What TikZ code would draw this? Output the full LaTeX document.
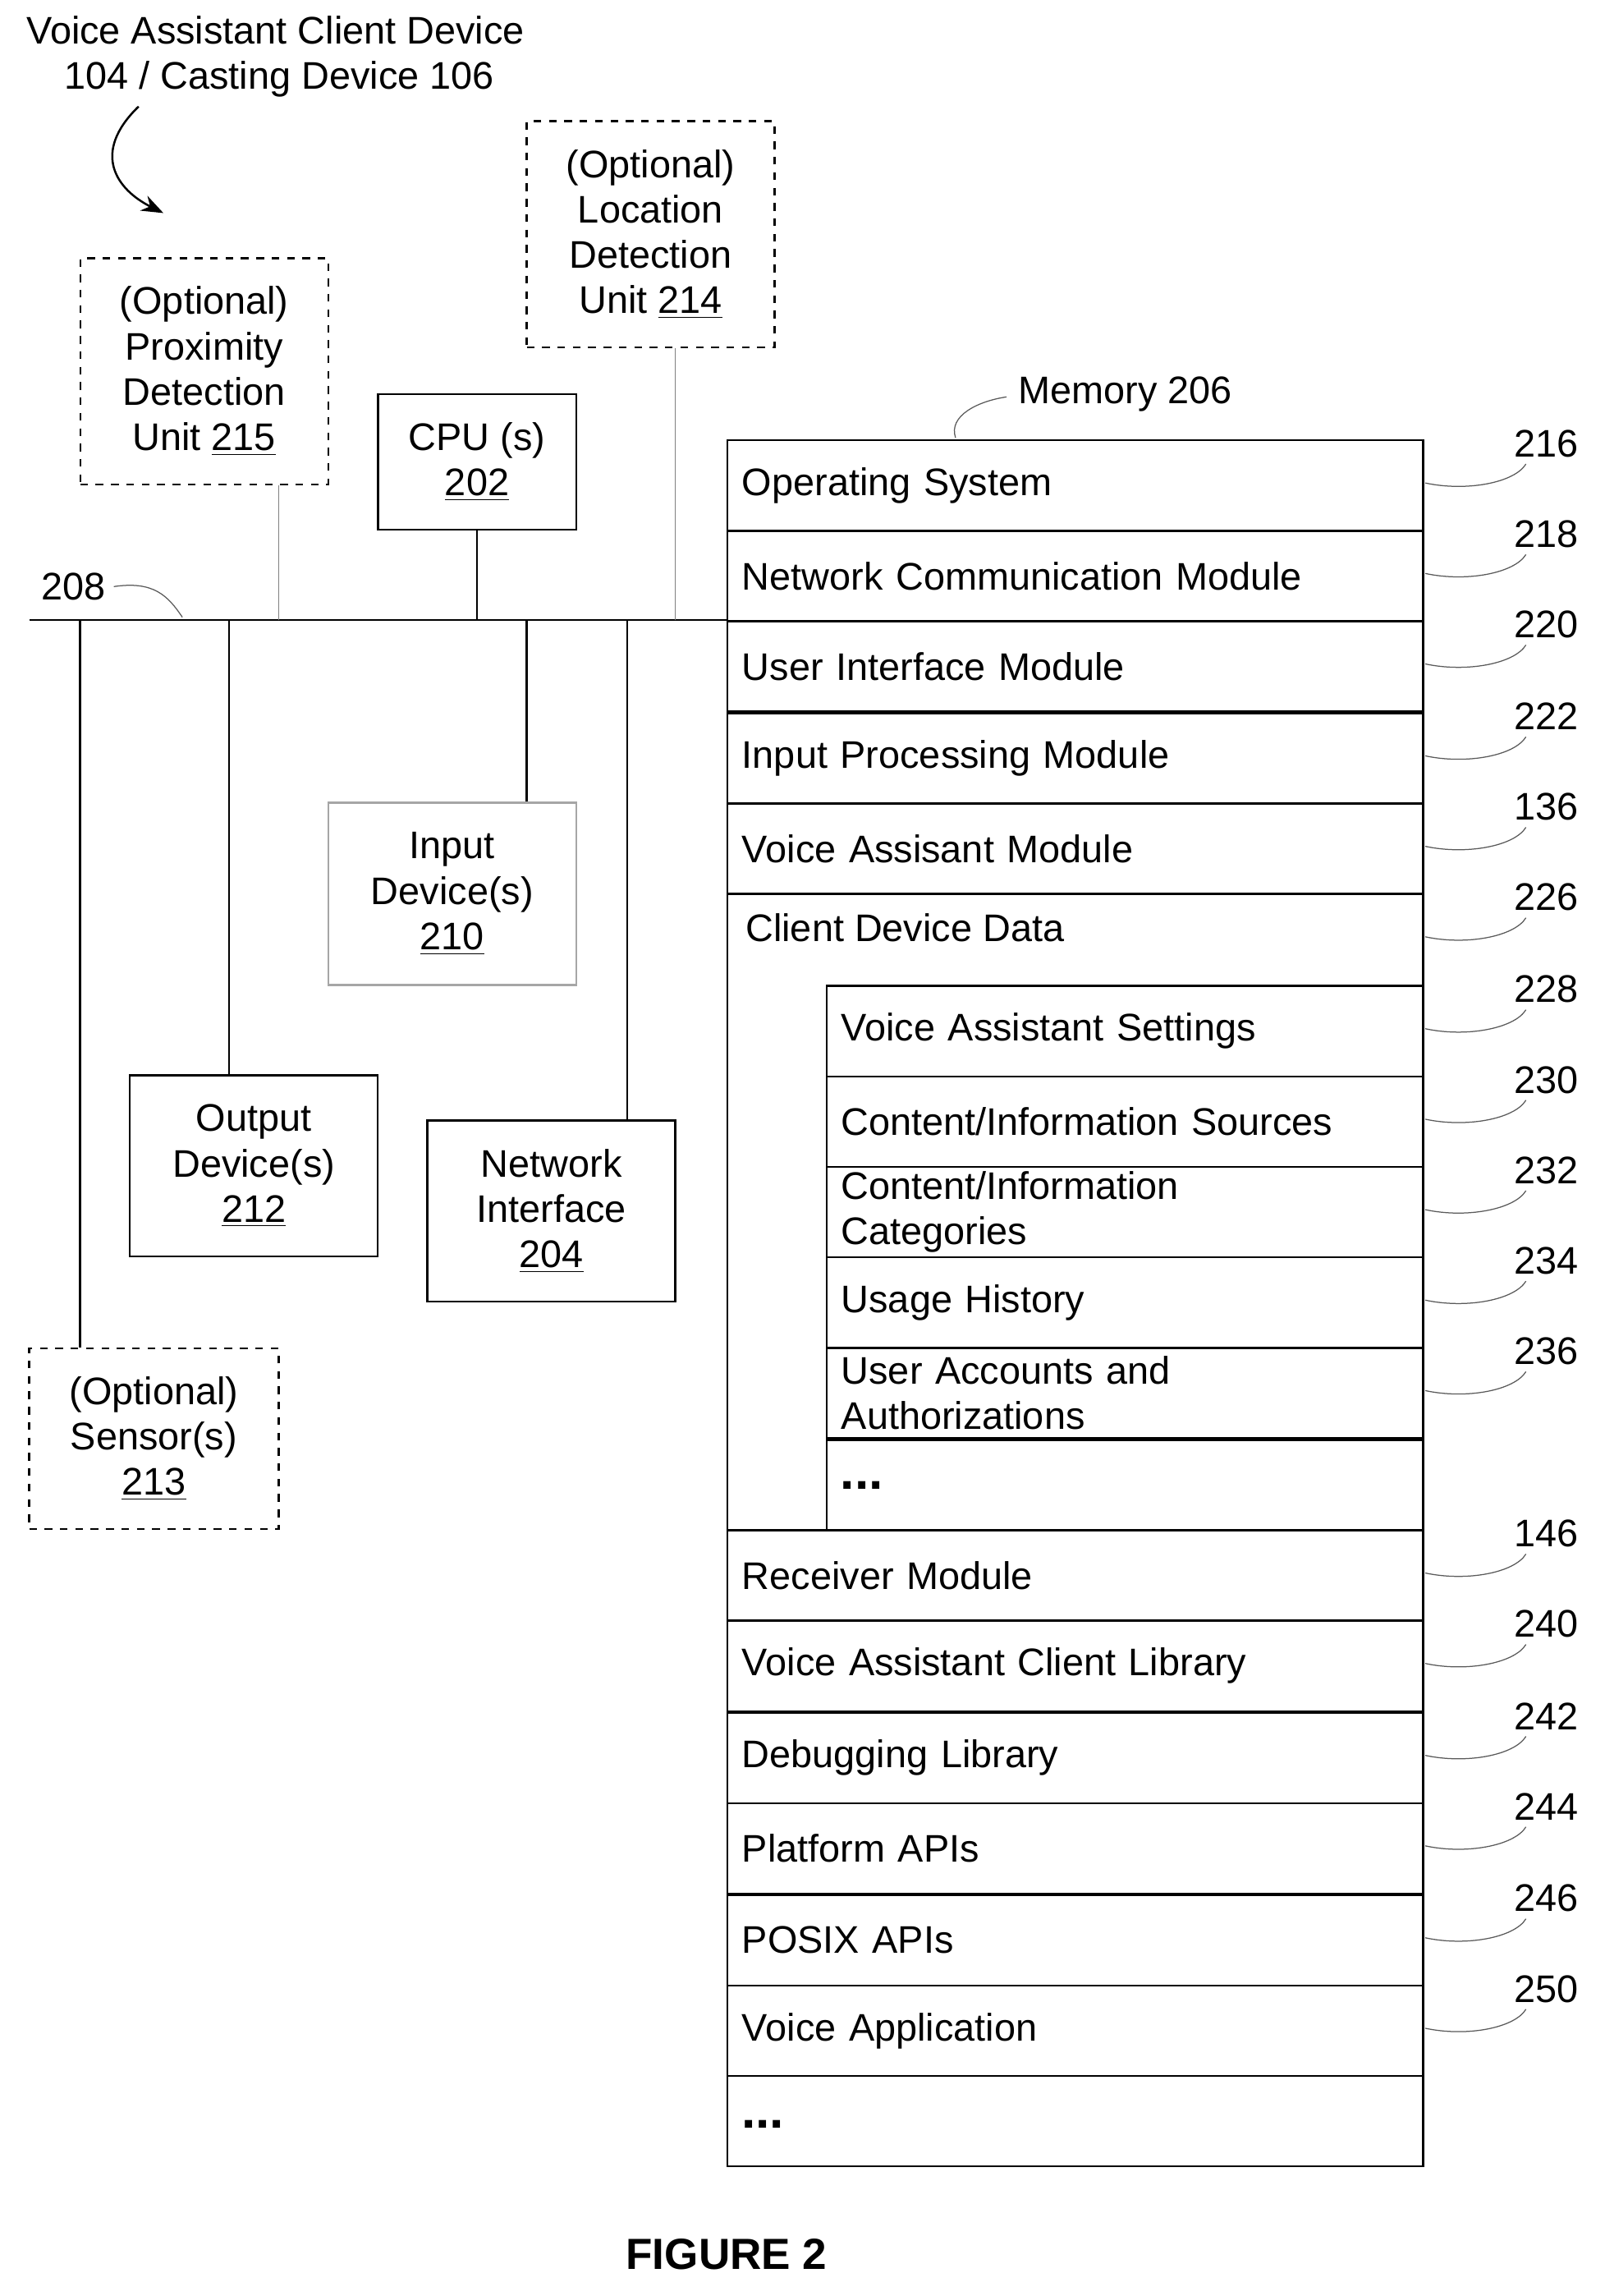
\documentclass[tikz,border=0pt]{standalone}
\usepackage{fontspec}
\setmainfont{Liberation Sans}
\usetikzlibrary{positioning, calc, arrows.meta}
\tikzset{
    % Boxes
    devBox/.style={draw, thick, align=center, inner sep=0pt, font=\fontsize{15}{17.7}\selectfont},
    optBox/.style={devBox, dashed},
    memRow/.style={draw, thick, anchor=north west, minimum width=9.54cm, minimum height=1.24cm,
        inner xsep=0.2cm, inner ysep=0pt, text width=9.14cm, align=left, font=\fontsize{15}{17.7}\selectfont},
    subRow/.style={memRow, minimum width=8.18cm, text width=7.78cm},
    refNum/.style={font=\fontsize{15}{17.7}\selectfont, anchor=west},
    dots/.style={font=\fontsize{20}{20}\selectfont\bfseries, anchor=west},
    squig/.style={gray!70!black, thin},
    busLine/.style={thick}
}
\begin{document}
\begin{tikzpicture}[x=0.02cm, y=-0.02cm]
    \useasboundingbox (0,0) rectangle (1100,1573.5);

    % Title
    \node[refNum, anchor=base west] (title1) at (12,30) {Voice Assistant Client Device};
    \node[refNum, anchor=base west] (title2) at (38,61) {104 / Casting Device 106};
    \coordinate (arrEnd) at (112,146);
    \draw[-{Stealth[length=3mm]}, thick] (95,73) .. controls (62,105) and (80,130) .. (arrEnd);

    % Bus
    \coordinate (busL) at (20,425);
    \coordinate (busR) at (498,425);
    \draw[busLine] (busL) -- (busR);
    \node[refNum] (busNum) at (22,402) {208};
    \draw[squig] (78,402) .. controls (105,398) and (115,408) .. (125,423);

    % Devices
    \node[optBox, minimum width=3.4cm, minimum height=3.1cm] (prox) at (140,254.5) {(Optional)\\Proximity\\Detection\\Unit \underline{215}};
    \node[optBox, minimum width=3.4cm, minimum height=3.1cm] (loc) at (446,160.5) {(Optional)\\Location\\Detection\\Unit \underline{214}};
    \node[devBox, minimum width=2.72cm, minimum height=1.86cm] (cpu) at (327,316.5) {CPU (s)\\\underline{202}};
    \node[devBox, draw=gray!70, minimum width=3.4cm, minimum height=2.5cm] (input) at (310,612.5) {Input\\Device(s)\\\underline{210}};
    \node[devBox, minimum width=3.4cm, minimum height=2.48cm] (output) at (174,799) {Output\\Device(s)\\\underline{212}};
    \node[devBox, minimum width=3.4cm, minimum height=2.48cm] (netif) at (378,830) {Network\\Interface\\\underline{204}};
    \node[optBox, minimum width=3.42cm, minimum height=2.48cm] (sensor) at (105.5,986) {(Optional)\\Sensor(s)\\\underline{213}};

    % Bus taps
    \draw[gray] (prox.south -| 191,0) -- (191,425);
    \draw[gray] (loc.south -| 463,0) -- (463,425);
    \draw[thick] (cpu.south) -- (cpu.south |- busL);
    \draw[thick] (361,425) -- (input.north -| 361,0);
    \draw[thick] (157,425) -- (output.north -| 157,0);
    \draw[thick] (430,425) -- (netif.north -| 430,0);
    \draw[thick] (55,425) -- (sensor.north -| 55,0);

    % Memory
    \node[refNum] (memNum) at (692,270) {Memory 206};
    \draw[squig] (655,300) .. controls (650,285) and (670,275) .. (690,272);
    \foreach \top/\name/\txt in {301/os/Operating System, 363/net/Network Communication Module,
        425/ui/User Interface Module, 488/inp/Input Processing Module, 550/va/Voice Assisant Module,
        1048/rcv/Receiver Module, 1110/lib/Voice Assistant Client Library, 1173/dbg/Debugging Library,
        1235/plat/Platform APIs, 1298/posix/POSIX APIs, 1360/app/Voice Application}
        \node[memRow] (\name) at (498,\top) {\txt};
    \node[memRow, minimum height=8.72cm] (cdd) at (498,612) {};
    \node[refNum] (cddTxt) at (505,636) {Client Device Data};
    \node[memRow, minimum height=1.24cm] (more) at (498,1422) {};
    \node[dots] (moreDots) at (502,1456) {...};
    \foreach \top/\name/\txt in {675/set/{Voice Assistant Settings}, 737/src/{Content/Information Sources},
        799/cat/{Content/Information\\Categories}, 861/hist/{Usage History},
        923/acct/{User Accounts and\\Authorizations}, 986/subMore/{}}
        \node[subRow, minimum height=1.24cm] (\name) at (566,\top) {\txt};
    \node[dots] (subDots) at (570,1018) {...};

    % Reference numbers
    \foreach \top/\num in {301/216, 363/218, 425/220, 488/222, 550/136, 612/226, 675/228,
        737/230, 799/232, 861/234, 923/236, 1048/146, 1110/240, 1173/242, 1235/244,
        1298/246, 1360/250} {
        \node[refNum] (ref\num) at (1032,\top+3) {\num};
        \draw[squig] (977,\top+30) .. controls (1005,\top+36) and (1038,\top+30) .. (1046,\top+17);
    }

    \node[font=\fontsize{17}{20}\selectfont\bfseries] (fig) at (498,1545) {FIGURE 2};
\end{tikzpicture}
\end{document}
